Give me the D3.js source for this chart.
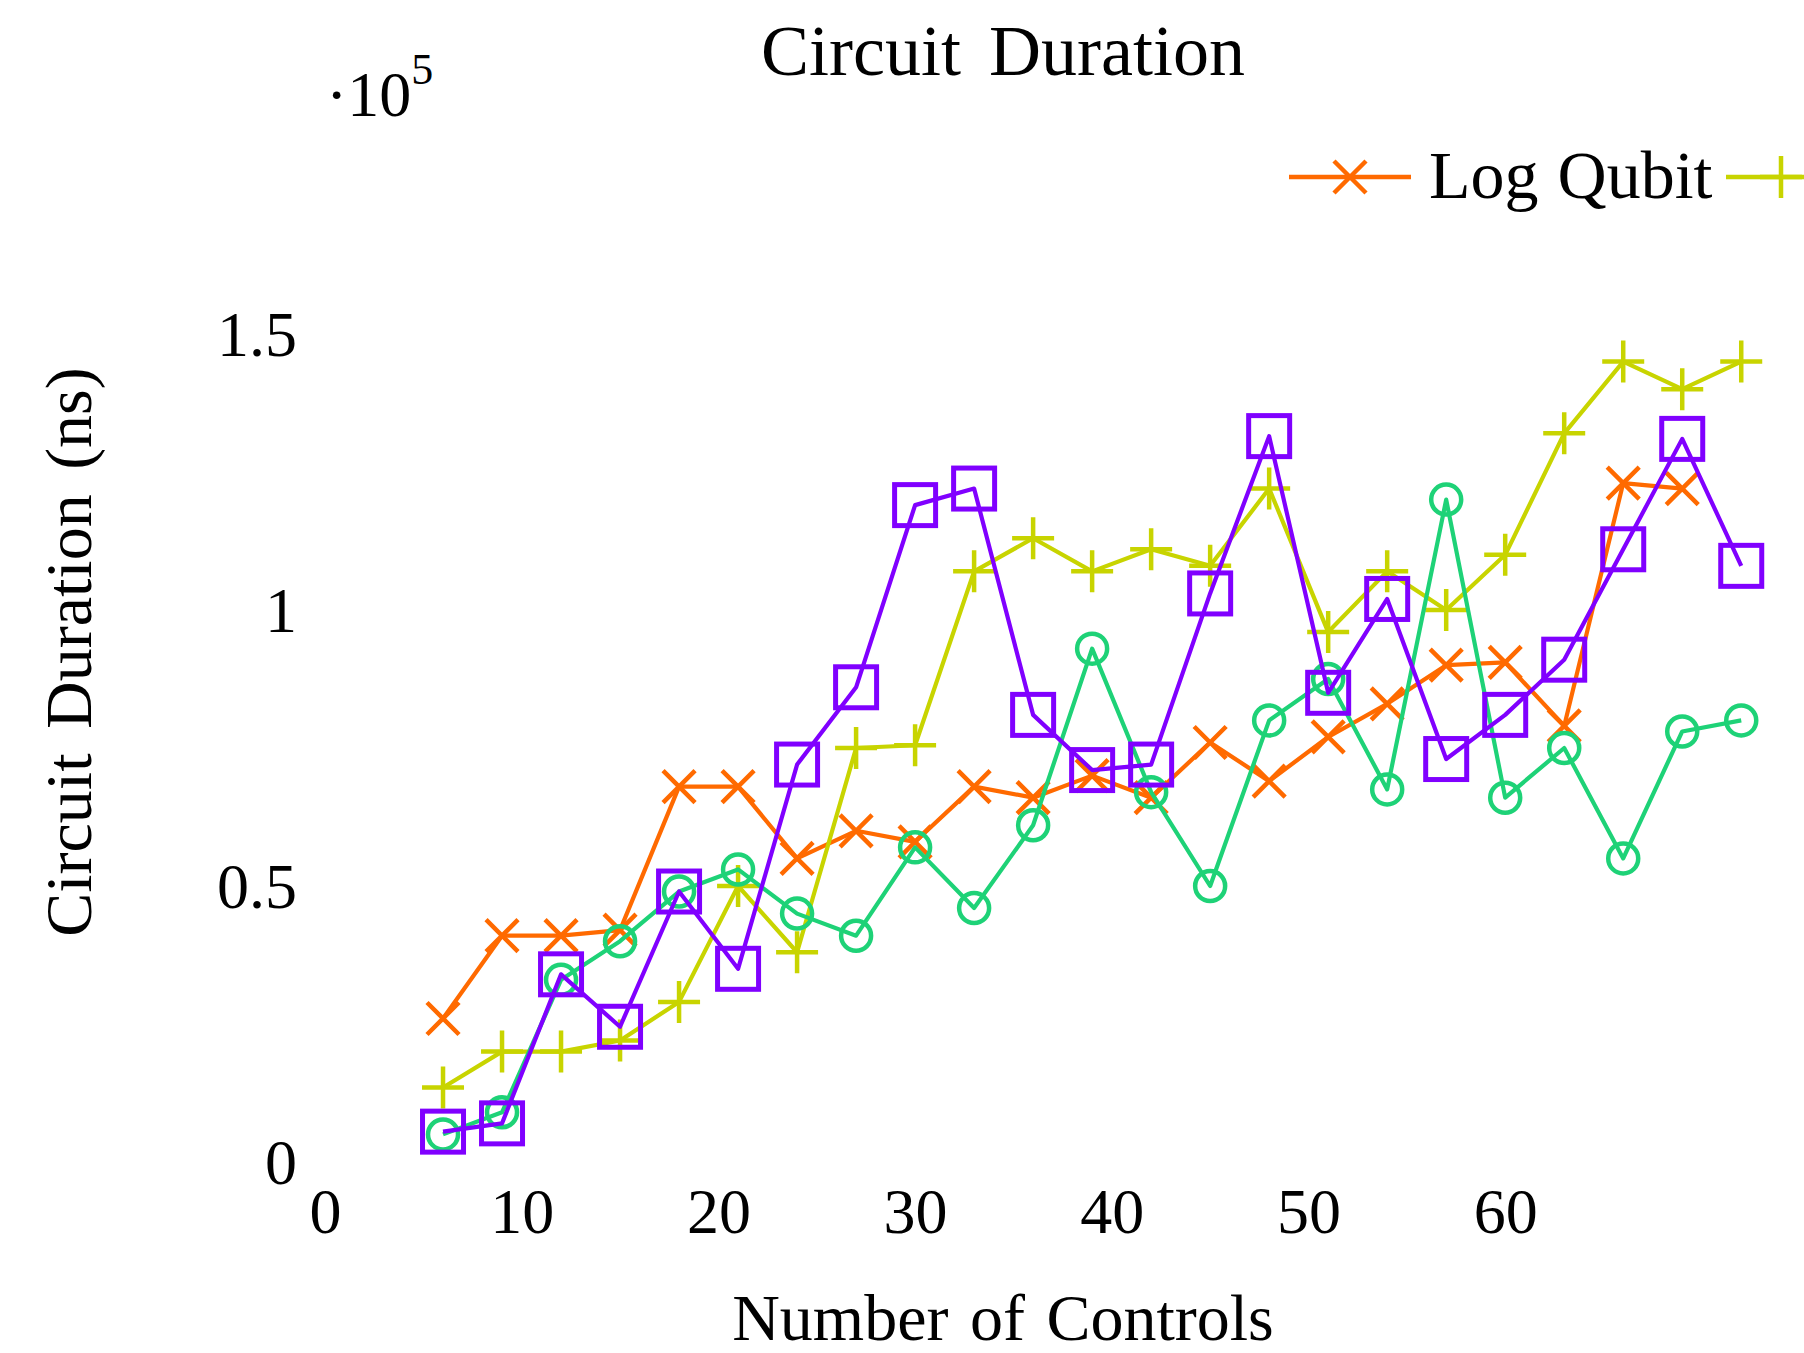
<!DOCTYPE html>
<html>
<head>
<meta charset="utf-8">
<script src="https://cdn.jsdelivr.net/npm/d3@7"></script>
<style>
	body { margin: 0; background: #fff; }
	svg text { font-family: 'Liberation Serif', 'Times New Roman', serif; fill: #000; }
</style>
</head>
<body>
<svg id="chart"></svg>
<script>
// number of controls, shared by every series
const controls = [6, 9, 12, 15, 18, 21, 24, 27, 30, 33, 36, 39, 42, 45, 48, 51, 54, 57, 60, 63, 66, 69, 72];

// circuit duration in ns
const logQubit = [26000, 41000, 41000, 42000, 68000, 68000, 55000, 60000, 58000, 68000, 66000, 70000,
	66000, 76000, 69000, 77000, 83000, 90000, 90500, 79000, 123000, 122000];
const seriesB = [13500, 20000, 20000, 22000, 29000, 50000, 38000, 75000, 75500, 107000, 113000, 107000,
	111000, 108000, 122000, 96000, 107000, 100000, 110000, 132000, 145000, 140000, 145000];
const seriesC = [5000, 9000, 33000, 40000, 49000, 53000, 45000, 41000, 57000, 46000, 61000, 93000,
	67000, 50000, 80000, 87500, 67500, 120000, 66000, 75000, 55000, 78000, 80000];
const seriesD = [5500, 7000, 34000, 24500, 49000, 35000, 72000, 86000, 119000, 122000, 81000, 71000,
	72000, 103000, 131500, 85000, 102000, 73000, 81000, 91000, 111000, 131000, 108000];

const xTicks = [0, 10, 20, 30, 40, 50, 60];
const yTicks = [0, 50000, 100000, 150000];
const legendNames = ['Log Qubit'];

const width = 1804,
	height = 1353;

const x = d3.scaleLinear()
	.domain([0, 60])
	.range([325, 325 + 60 * 19.67]);

const y = d3.scaleLinear()
	.domain([0, 150000])
	.range([1162, 334]);

const chart = d3.select('#chart')
	.attr('width', width)
	.attr('height', height)
	.attr('viewBox', `0 0 ${width} ${height}`)
	.style('overflow', 'hidden');

// axes: only tick labels are shown, no lines or tick marks
const xAxis = d3.axisBottom(x).tickValues(xTicks).tickSize(0).tickPadding(0);
const yAxis = d3.axisLeft(y).tickValues(yTicks).tickSize(0).tickPadding(0)
	.tickFormat(d => d3.format('~g')(d / 1e5));

chart.append('g')
	.attr('class', 'xaxis')
	.attr('transform', 'translate(0, 1233)')
	.call(xAxis)
	.call(g => g.select('.domain').remove())
	.selectAll('text')
	.attr('y', 0)
	.attr('dy', null)
	.style('font-family', "'Liberation Serif', serif")
	.style('font-size', '64px');

chart.append('g')
	.attr('class', 'yaxis')
	.attr('transform', 'translate(297, 0)')
	.call(yAxis)
	.call(g => g.select('.domain').remove())
	.selectAll('text')
	.attr('x', 0)
	.attr('dy', '0.34em')
	.style('font-family', "'Liberation Serif', serif")
	.style('font-size', '64px');

// multiplier above the y axis
const mult = chart.append('text')
	.attr('x', 326)
	.attr('y', 116)
	.style('font-size', '64px');
mult.append('tspan').text('·10');
mult.append('tspan').attr('dy', -32).style('font-size', '44px').text('5');

chart.append('text')
	.attr('x', 1003)
	.attr('y', 75)
	.attr('text-anchor', 'middle')
	.style('font-size', '72px')
	.style('word-spacing', '10px')
	.text('Circuit Duration');

chart.append('text')
	.attr('transform', 'translate(91, 652) rotate(-90)')
	.attr('text-anchor', 'middle')
	.style('font-size', '66px')
	.style('word-spacing', '8px')
	.text('Circuit Duration (ns)');

chart.append('text')
	.attr('x', 1003)
	.attr('y', 1340)
	.attr('text-anchor', 'middle')
	.style('font-size', '66px')
	.style('word-spacing', '5px')
	.text('Number of Controls');

// markers
function drawMark(g, type, cx, cy, color) {
	if (type === 'cross') {
		const s = 16;
		g.append('path')
			.attr('d', `M${cx - s},${cy - s}L${cx + s},${cy + s}M${cx - s},${cy + s}L${cx + s},${cy - s}`)
			.attr('stroke', color).attr('stroke-width', 4.5).attr('fill', 'none');
	} else if (type === 'plus') {
		const s = 21;
		g.append('path')
			.attr('d', `M${cx - s},${cy}L${cx + s},${cy}M${cx},${cy - s}L${cx},${cy + s}`)
			.attr('stroke', color).attr('stroke-width', 4.5).attr('fill', 'none');
	} else if (type === 'circle') {
		g.append('circle')
			.attr('cx', cx).attr('cy', cy).attr('r', 15)
			.attr('stroke', color).attr('stroke-width', 4.5).attr('fill', 'none');
	} else {
		const s = 20.5;
		g.append('rect')
			.attr('x', cx - s).attr('y', cy - s).attr('width', 2 * s).attr('height', 2 * s)
			.attr('stroke', color).attr('stroke-width', 5).attr('fill', 'none');
	}
}

const series = [
	{ values: logQubit, color: '#ff6a00', mark: 'cross' },
	{ values: seriesB, color: '#c8d400', mark: 'plus' },
	{ values: seriesC, color: '#1ed277', mark: 'circle' },
	{ values: seriesD, color: '#8000ff', mark: 'square' }
];

const line = d3.line()
	.x(d => x(d[0]))
	.y(d => y(d[1]));

series.forEach(s => {
	const pts = s.values.map((v, i) => [controls[i], v]);
	const g = chart.append('g');
	g.append('path')
		.attr('d', line(pts))
		.attr('fill', 'none')
		.attr('stroke', s.color)
		.attr('stroke-width', 4.2)
		.attr('stroke-linejoin', 'round');
	pts.forEach(p => drawMark(g, s.mark, x(p[0]), y(p[1]), s.color));
});

// legend, runs off the right edge like the original
const legend = chart.append('g');
legend.append('line')
	.attr('x1', 1289).attr('x2', 1411).attr('y1', 177).attr('y2', 177)
	.attr('stroke', series[0].color).attr('stroke-width', 4.5);
drawMark(legend, 'cross', 1350, 177, series[0].color);
legend.append('text')
	.attr('x', 1429)
	.attr('y', 198)
	.style('font-size', '68px')
	.style('word-spacing', '2px')
	.text(legendNames[0]);
legend.append('line')
	.attr('x1', 1726).attr('x2', 1850).attr('y1', 177).attr('y2', 177)
	.attr('stroke', series[1].color).attr('stroke-width', 4.5);
drawMark(legend, 'plus', 1781, 177, series[1].color);
</script>
</body>
</html>
